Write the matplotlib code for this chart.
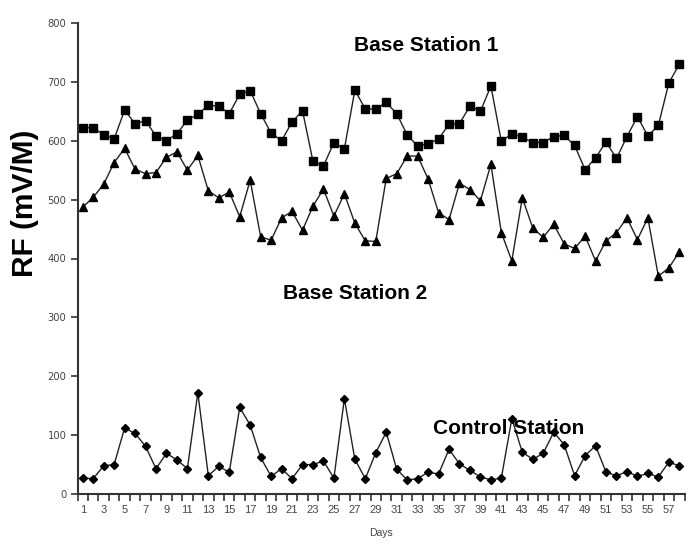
import matplotlib
matplotlib.use("Agg")
import matplotlib.pyplot as plt
import numpy as np

days = list(range(1, 59))
base1 = [622, 622, 610, 603, 652, 629, 634, 608, 600, 612, 635, 645, 660, 659, 646, 679, 685,
         646, 613, 600, 632, 651, 565, 557, 597, 586, 686, 654, 654, 665, 646, 610, 591, 595,
         603, 628, 629, 659, 650, 693, 599, 612, 606, 597, 597, 607, 609, 592, 551, 571, 598,
         570, 607, 641, 608, 626, 698, 730]
base2 = [487, 504, 526, 563, 587, 552, 544, 546, 572, 581, 550, 575, 515, 503, 513, 471, 533,
         437, 431, 469, 480, 448, 489, 518, 472, 510, 460, 430, 429, 536, 544, 574, 574, 535,
         478, 466, 528, 517, 498, 560, 444, 396, 503, 452, 436, 458, 425, 417, 438, 396, 430,
         444, 469, 432, 469, 370, 384, 411]
control = [27, 26, 48, 50, 112, 103, 81, 43, 69, 58, 43, 172, 31, 47, 37, 147, 117, 62, 30, 43,
           26, 50, 50, 56, 27, 162, 59, 26, 70, 105, 42, 24, 26, 37, 34, 76, 51, 40, 29, 24, 27,
           128, 71, 59, 69, 105, 84, 31, 65, 82, 37, 31, 38, 30, 35, 29, 54, 48]
yticks = [0, 100, 200, 300, 400, 500, 600, 700, 800]

plt.rcParams['font.family'] = ['Liberation Sans', 'DejaVu Sans']

fig = plt.figure(figsize=(6.88, 5.44), dpi=100)
ax = fig.add_axes([77.5 / 688, 1 - 494 / 544, (684.5 - 77.5) / 688, (494 - 23) / 544])

lc = '#222222'
ax.plot(days, base1, color=lc, lw=1.0, marker='s', ms=5.3, mfc='black', mec='black')
ax.plot(days, base2, color=lc, lw=1.0, marker='^', ms=5.5, mfc='black', mec='black')
ax.plot(days, control, color=lc, lw=1.0, marker='D', ms=4.2, mfc='black', mec='black')

ax.set_xlim(0.5, 58.5)
ax.set_ylim(0, 800)
ax.set_yticks(yticks)
ax.set_yticklabels([str(v) for v in yticks], family='DejaVu Sans', fontsize=7.2)
ax.set_xticks(days)
ax.set_xticklabels([str(d) if d % 2 == 1 else '' for d in days], fontsize=8)
ax.set_xticks(np.arange(0.5, 59, 1.0), minor=True)

for s in ['top', 'right']:
    ax.spines[s].set_visible(False)
for s in ['left', 'bottom']:
    ax.spines[s].set_color('#333333')
    ax.spines[s].set_linewidth(1.5)
ax.tick_params(axis='y', direction='out', length=5, width=1.2, color='#333333',
               labelcolor='#444444', pad=3)
ax.tick_params(axis='x', which='major', length=0, labelcolor='#444444', pad=8)
ax.tick_params(axis='x', which='minor', direction='out', length=5, width=1.2, color='#333333')

ax.set_xlabel('Days', fontsize=7.5, color='#444444', labelpad=9)
fig.text(25 / 688, 1 - 203 / 544, 'RF (mV/M)', fontsize=21.5, fontweight='bold',
         rotation=90, ha='center', va='center')

ax.text(33.8, 762, 'Base Station 1', fontsize=15, fontweight='bold', ha='center', va='center')
ax.text(27.0, 341, 'Base Station 2', fontsize=15, fontweight='bold', ha='center', va='center')
ax.text(41.7, 112, 'Control Station', fontsize=15, fontweight='bold', ha='center', va='center')

fig.savefig('out.png', dpi=100)
